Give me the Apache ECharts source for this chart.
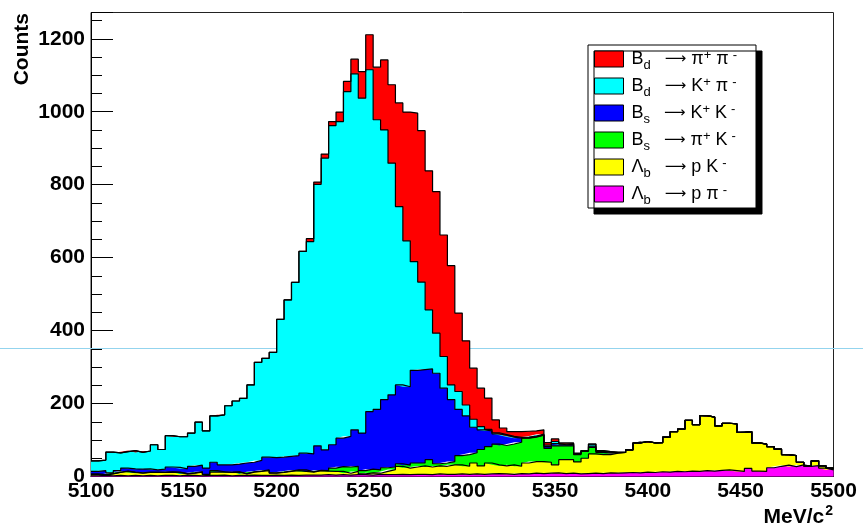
<!DOCTYPE html>
<html>
<head>
<meta charset="utf-8">
<script src="https://cdn.jsdelivr.net/npm/echarts@6/dist/echarts.min.js"></script>
<style>
  html, body { margin: 0; padding: 0; background: #fff; }
  #chart { width: 863px; height: 527px; }
</style>
</head>
<body>
<div id="chart"></div>
<script>
// 100 bins of 4 MeV/c^2 from 5100 to 5500
const binLow = 5100
const binWidth = 4
const nBins = 100
const xTickLabels = ['5100', '5150', '5200', '5250', '5300', '5350', '5400', '5450', '5500']
const yTickLabels = ['0', '200', '400', '600', '800', '1000', '1200']

// counts per bin, stacked bottom -> top
const lbPpi = [
  2, 3, 2, 3, 2, 3, 2, 3, 2, 3,
  3, 2, 4, 3, 2, 3, 3, 4, 2, 3,
  3, 4, 3, 3, 4, 3, 4, 3, 4, 4,
  4, 5, 4, 5, 4, 5, 5, 4, 6, 5,
  5, 6, 5, 6, 6, 5, 7, 6, 6, 7,
  6, 7, 6, 7, 8, 7, 6, 8, 7, 9,
  8, 9, 10, 8, 9, 7, 8, 9, 8, 10,
  9, 10, 11, 10, 12, 11, 13, 12, 14, 13,
  15, 14, 16, 15, 17, 18, 16, 14, 22, 15,
  14, 24, 28, 31, 27, 32, 28, 30, 23, 18
]
const lbPK = [
  3, 1, 5, 8, 12, 8, 7, 8, 9, 8,
  9, 9, 3, 6, 10, 2, 9, 8, 9, 9,
  4, 8, 11, 13, 5, 8, 10, 13, 10, 8,
  12, 10, 10, 9, 5, 9, 2, 6, 3, 9,
  14, 22, 18, 20, 23, 21, 22, 22, 26, 25,
  22, 30, 23, 30, 24, 22, 26, 20, 30, 32,
  33, 30, 22, 38, 37, 33, 42, 53, 52, 50,
  55, 56, 62, 82, 84, 81, 80, 96, 109, 117,
  139, 128, 151, 148, 122, 128, 128, 107, 101, 77,
  75, 58, 47, 29, 30, 7, 1, 13, 6, 5
]
const bsPiK = [
  2, 1, 1, 1, 1, 1, 1, 1, 1, 1,
  1, 1, 1, 1, 1, 1, 4, 1, 1, 1,
  1, 1, 1, 2, 1, 1, 1, 2, 4, 1,
  1, 1, 9, 13, 17, 14, 9, 10, 9, 10,
  7, 7, 8, 11, 8, 20, 6, 9, 9, 25,
  32, 28, 45, 45, 57, 56, 57, 66, 68, 67,
  72, 38, 52, 38, 38, 20, 19, 18, 6, 4,
  1, 0, 0, 0, 0, 0, 0, 0, 0, 0,
  0, 0, 0, 0, 0, 0, 0, 0, 0, 0,
  0, 0, 0, 0, 0, 0, 0, 0, 0, 0
]
const bsKK = [
  7, 11, 2, 4, 8, 9, 10, 9, 6, 8,
  13, 13, 13, 18, 18, 17, 23, 19, 20, 21,
  29, 26, 29, 35, 42, 41, 40, 39, 46, 49,
  67, 57, 64, 78, 84, 100, 103, 158, 166, 187,
  198, 216, 215, 254, 256, 249, 248, 205, 170, 127,
  106, 70, 54, 43, 28, 28, 19, 11, 1, 1,
  1, 5, 6, 3, 4, 2, 1, 3, 3, 3,
  1, 0, 0, 0, 0, 0, 0, 0, 0, 0,
  0, 0, 0, 0, 0, 0, 0, 0, 0, 0,
  0, 0, 0, 0, 0, 0, 0, 0, 0, 0
]
const bdKpi = [
  29, 29, 57, 49, 45, 50, 46, 49, 69, 54,
  86, 84, 88, 91, 118, 102, 127, 137, 162, 173,
  177, 212, 269, 271, 288, 378, 429, 475, 553, 582,
  717, 800, 875, 868, 945, 976, 918, 937, 794, 739,
  635, 489, 400, 298, 240, 162, 110, 87, 40, 49,
  30, 22, 9, 4, 3, 2, 2, 2, 2, 2,
  2, 4, 6, 2, 2, 1, 1, 6, 1, 1,
  0, 0, 0, 0, 0, 0, 0, 0, 0, 0,
  0, 0, 0, 0, 0, 0, 0, 0, 0, 0,
  0, 0, 0, 0, 0, 0, 0, 0, 0, 0
]
const bdPipi = [
  0, 0, 0, 0, 0, 0, 0, 0, 0, 0,
  0, 0, 0, 0, 0, 0, 0, 0, 0, 0,
  0, 0, 0, 0, 0, 0, 0, 0, 0, 8,
  6, 11, 11, 26, 28, 40, 73, 96, 144, 192,
  215, 284, 353, 407, 415, 381, 388, 333, 327, 215,
  176, 140, 105, 86, 35, 18, 13, 16, 16, 14,
  12, 7, 7, 3, 2, 1, 0, 0, 1, 0,
  0, 0, 0, 0, 0, 0, 0, 0, 0, 0,
  0, 0, 0, 0, 0, 0, 0, 0, 0, 0,
  0, 0, 0, 0, 0, 0, 0, 0, 0, 0
]

const font = 'Liberation Sans'

// bin edges (101) for the hidden category axis that carries the histograms
const binEdges = []
for (let i = 0; i <= nBins; i++) binEdges.push(String(binLow + i * binWidth))

// legend labels with sub/superscripts
const legendLabels = {
  'Bd pipi': '{f|B}{sub|d}{ar|⟶}{n|π}{sup|+}{n| π}{supm|-}',
  'Bd Kpi': '{f|B}{sub|d}{ar|⟶}{n|K}{sup|+}{n| π}{supm|-}',
  'Bs KK': '{f|B}{sub|s}{ar|⟶}{n|K}{sup|+}{n| K}{supm|-}',
  'Bs piK': '{f|B}{sub|s}{ar|⟶}{n|π}{sup|+}{n| K}{supm|-}',
  'Lb pK': '{f|Λ}{sub|b}{ar|⟶}{n|p K}{supm|-}',
  'Lb ppi': '{f|Λ}{sub|b}{ar|⟶}{n|p π}{supm|-}'
}

function histSeries(name, vals, color) {
  return {
    name: name,
    type: 'line',
    xAxisIndex: 1,
    stack: 'all',
    step: 'end',
    symbol: 'none',
    silent: true,
    color: color,
    lineStyle: { color: '#000', width: 1.2 },
    areaStyle: { color: color, opacity: 1 },
    // last bin repeated so the final step reaches the right edge
    data: vals.concat([vals[vals.length - 1]])
  }
}

const chart = echarts.init(document.getElementById('chart'))
chart.setOption({
  animation: false,
  backgroundColor: '#fff',
  grid: {
    left: 91,
    right: 29.5,
    top: 12.5,
    bottom: 50.5,
    show: true,
    borderColor: '#222',
    borderWidth: 1,
    backgroundColor: 'transparent'
  },
  legend: {
    left: 588,
    top: 45,
    orient: 'vertical',
    icon: 'rect',
    itemWidth: 29,
    itemHeight: 16,
    itemGap: 1,
    padding: [1, 19, 1, 6],
    backgroundColor: '#fff',
    borderColor: '#000',
    borderWidth: 1,
    shadowColor: '#000',
    shadowBlur: 0,
    shadowOffsetX: 6,
    shadowOffsetY: 6,
    selectedMode: false,
    itemStyle: { borderColor: '#000', borderWidth: 1 },
    data: ['Bd pipi', 'Bd Kpi', 'Bs KK', 'Bs piK', 'Lb pK', 'Lb ppi'],
    formatter: name => legendLabels[name],
    textStyle: {
      rich: {
        f: { fontFamily: font, fontSize: 18, lineHeight: 18, color: '#000', padding: [0, 0, 0, 3] },
        n: { fontFamily: font, fontSize: 18, lineHeight: 18, color: '#000' },
        ar: { fontFamily: 'DejaVu Sans', fontSize: 15, lineHeight: 18, color: '#000', padding: [0, 5, 0, 14] },
        sub: { fontFamily: font, fontSize: 13, lineHeight: 13, color: '#000', padding: [13, 0, 0, 0] },
        sup: { fontFamily: font, fontSize: 13, lineHeight: 13, color: '#000', padding: [0, 0, 8, 0] },
        supm: { fontFamily: font, fontSize: 13, lineHeight: 13, color: '#000', padding: [0, 0, 8, 4] }
      }
    }
  },
  xAxis: [
    {
      type: 'value',
      min: 5100,
      max: 5500,
      interval: 50,
      axisLine: { show: true, lineStyle: { color: '#000', width: 1 } },
      axisTick: { show: false },
      splitLine: { show: false },
      axisLabel: {
        margin: 4,
        color: '#000',
        fontFamily: font,
        fontWeight: 'bold',
        fontSize: 21,
        formatter: v => (xTickLabels.includes(String(v)) ? String(v) : '')
      }
    },
    {
      type: 'category',
      data: binEdges,
      boundaryGap: false,
      position: 'bottom',
      show: false
    }
  ],
  yAxis: [
    {
      type: 'value',
      min: 0,
      max: 1272,
      interval: 200,
      axisLine: { show: true, lineStyle: { color: '#000', width: 1 } },
      axisTick: { show: true, inside: true, length: 22, lineStyle: { color: '#000' } },
      splitLine: { show: false },
      axisLabel: {
        margin: 6,
        color: '#000',
        fontFamily: font,
        fontWeight: 'bold',
        fontSize: 21,
        formatter: v => (yTickLabels.includes(String(v)) ? String(v) : '')
      }
    },
    {
      // small ticks every 50 counts
      type: 'value',
      position: 'left',
      min: 0,
      max: 1272,
      interval: 50,
      axisLine: { show: false },
      axisTick: { show: true, inside: true, length: 11, lineStyle: { color: '#000' } },
      axisLabel: { show: false },
      splitLine: { show: false }
    }
  ],
  graphic: [
    {
      type: 'line',
      z: 1,
      silent: true,
      shape: { x1: 0, y1: 348.5, x2: 863, y2: 348.5 },
      style: { stroke: '#93d4ee', lineWidth: 1 }
    },
    {
      type: 'text',
      x: 22,
      y: 13,
      rotation: Math.PI / 2,
      silent: true,
      style: {
        text: 'Counts',
        fontFamily: font,
        fontWeight: 'bold',
        fontSize: 21,
        fill: '#000',
        align: 'right',
        textAlign: 'right',
        verticalAlign: 'middle',
        textVerticalAlign: 'middle'
      }
    },
    {
      type: 'text',
      x: 833,
      y: 517,
      silent: true,
      style: {
        text: '{a|MeV/c}{b|2}',
        align: 'right',
        textAlign: 'right',
        verticalAlign: 'middle',
        textVerticalAlign: 'middle',
        rich: {
          a: { fontFamily: font, fontWeight: 'bold', fontSize: 21, lineHeight: 21, fill: '#000', color: '#000' },
          b: { fontFamily: font, fontWeight: 'bold', fontSize: 14, lineHeight: 14, fill: '#000', color: '#000', padding: [0, 0, 12, 1] }
        }
      }
    }
  ],
  series: [
    histSeries('Lb ppi', lbPpi, '#ff00ff'),
    histSeries('Lb pK', lbPK, '#ffff00'),
    histSeries('Bs piK', bsPiK, '#00ff00'),
    histSeries('Bs KK', bsKK, '#0000ff'),
    histSeries('Bd Kpi', bdKpi, '#00ffff'),
    histSeries('Bd pipi', bdPipi, '#ff0000')
  ]
})
</script>
</body>
</html>
